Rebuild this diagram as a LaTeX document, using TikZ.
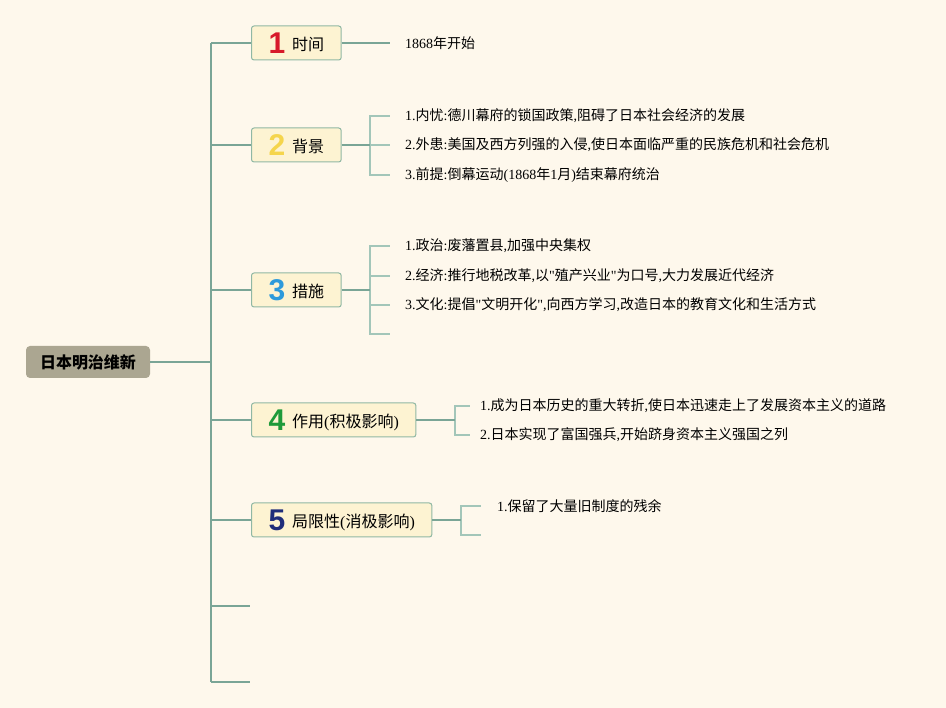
\documentclass[tikz,border=0pt]{standalone}
\usepackage{fontspec}
\setmainfont{Liberation Serif}[Ligatures=TeXOff]
\newfontfamily\cjk{Noto Sans CJK SC}
\newfontfamily\numfont{Liberation Sans}
% CJK characters switch to the CJK font by themselves
\XeTeXinterchartokenstate=1
\newXeTeXintercharclass\cjkclass
\makeatletter
\count@="2E80
\loop\ifnum\count@<"A000 \XeTeXcharclass\count@=\cjkclass \advance\count@ by 1 \repeat
\count@="FF00
\loop\ifnum\count@<"FFF0 \XeTeXcharclass\count@=\cjkclass \advance\count@ by 1 \repeat
\makeatother
\XeTeXinterchartoks 0 \cjkclass = {\cjk}
\XeTeXinterchartoks 4095 \cjkclass = {\cjk}
\XeTeXinterchartoks \cjkclass 0 = {\rmfamily}
\XeTeXinterchartoks \cjkclass 4095 = {\rmfamily}

\definecolor{paper}{HTML}{FEF8EC}
\definecolor{rootfill}{HTML}{ABA691}
\definecolor{boxfill}{HTML}{FDF3D2}
\definecolor{boxline}{HTML}{90B8A4}
\definecolor{stem}{HTML}{7AA596}
\definecolor{twigc}{HTML}{A3C6B9}
\definecolor{numA}{HTML}{D7192A}
\definecolor{numB}{HTML}{F5D54C}
\definecolor{numC}{HTML}{2D9ADB}
\definecolor{numD}{HTML}{1E9A3A}
\definecolor{numE}{HTML}{1F2D7A}

\newcommand\numtag[3]{{\color{#1}\numfont\bfseries\fontsize{30}{30}\selectfont #2}\hspace{7pt}\raisebox{3pt}{#3}}

\tikzset{
  root/.style={fill=rootfill,rounded corners=4pt,minimum width=124,minimum height=32,
    font=\bfseries\fontsize{16}{16}\selectfont},
  topic/.style={anchor=west,fill=boxfill,draw=boxline,line width=1pt,rounded corners=2.5pt,
    minimum height=34,inner xsep=17,font=\fontsize{16}{16}\selectfont},
  leaf/.style={anchor=west,inner sep=0,font=\fontsize{14}{14}\selectfont},
  trunk/.style={draw=stem,line width=1.3pt},
  twig/.style={draw=twigc,line width=1.2pt},
}

\begin{document}
\begin{tikzpicture}[x=1pt,y=-1pt]
\fill[paper] (0,0) rectangle (946,708);
\node[root] (R) at (88,362) {日本明治维新};
\coordinate (T0) at (211,362);
\coordinate (Ttop) at (211,43);
\coordinate (Tbot) at (211,682);
\draw[trunk] (Ttop) -- (Tbot);
\draw[trunk] (R) -- (T0);

\node[topic] (A) at (251,43) {\numtag{numA}{1}{时间}};
\node[topic] (B) at (251,145) {\numtag{numB}{2}{背景}};
\node[topic] (C) at (251,290) {\numtag{numC}{3}{措施}};
\node[topic] (D) at (251,420) {\numtag{numD}{4}{作用(积极影响)}};
\node[topic] (E) at (251,520) {\numtag{numE}{5}{局限性(消极影响)}};
\coordinate (F) at (250,606);
\coordinate (G) at (250,682);
\foreach \t in {A,B,C,D,E,F,G}
  \draw[trunk] (\t.west -| Ttop) -- (\t.west);

% 1
\node[leaf] (A1) at (405,43) {1868年开始};
\coordinate (a1) at (390,43);
\draw[trunk] (A) -- (a1);

% 2
\node[leaf] (B1) at (405,116) {1.内忧:德川幕府的锁国政策,阻碍了日本社会经济的发展};
\node[leaf] (B2) at (405,145) {2.外患:美国及西方列强的入侵,使日本面临严重的民族危机和社会危机};
\node[leaf] (B3) at (405,175) {3.前提:倒幕运动(1868年1月)结束幕府统治};
\coordinate (bB) at (370,145);
\foreach \l in {B1,B2,B3}
  \draw[twig] (bB) |- ([xshift=-15pt]\l.west);
\draw[trunk] (B) -- (bB);

% 3
\node[leaf] (C1) at (405,246) {1.政治:废藩置县,加强中央集权};
\node[leaf] (C2) at (405,276) {2.经济:推行地税改革,以"殖产兴业"为口号,大力发展近代经济};
\node[leaf] (C3) at (405,305) {3.文化:提倡"文明开化",向西方学习,改造日本的教育文化和生活方式};
\coordinate (C4) at (405,334);
\coordinate (bC) at (370,290);
\foreach \l in {C1,C2,C3,C4}
  \draw[twig] (bC) |- ([xshift=-15pt]\l.west);
\draw[trunk] (C) -- (bC);

% 4
\node[leaf] (D1) at (480,406) {1.成为日本历史的重大转折,使日本迅速走上了发展资本主义的道路};
\node[leaf] (D2) at (480,435) {2.日本实现了富国强兵,开始跻身资本主义强国之列};
\coordinate (bD) at (455,420);
\foreach \l in {D1,D2}
  \draw[twig] (bD) |- ([xshift=-10pt]\l.west);
\draw[trunk] (D) -- (bD);

% 5
\node[leaf] (E1) at (497,506) {1.保留了大量旧制度的残余};
\coordinate (E2) at (497,535);
\coordinate (bE) at (461,520);
\foreach \l in {E1,E2}
  \draw[twig] (bE) |- ([xshift=-16pt]\l.west);
\draw[trunk] (E) -- (bE);
\end{tikzpicture}
\end{document}
